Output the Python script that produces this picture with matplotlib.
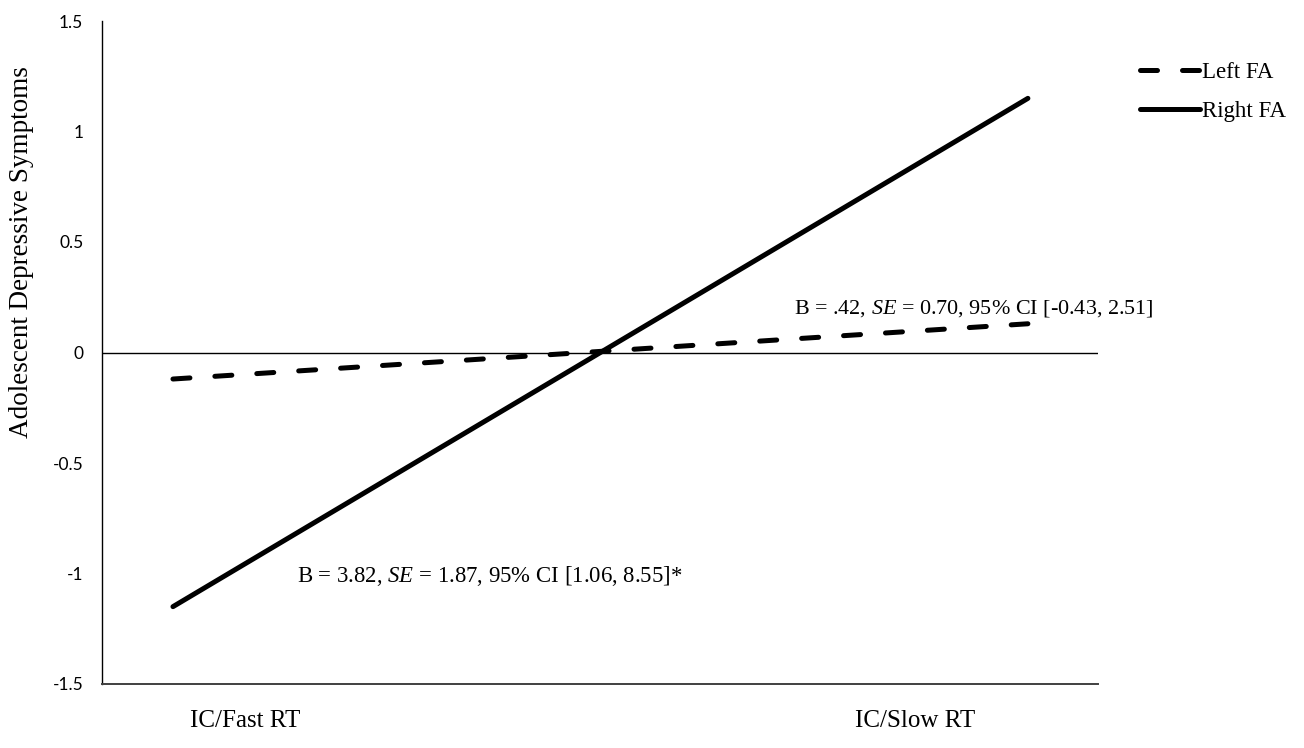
import matplotlib.pyplot as plt
from matplotlib.transforms import blended_transform_factory

# data
conditions = ['IC/Fast RT', 'IC/Slow RT']
left_fa = [-0.12, 0.13]
right_fa = [-1.15, 1.15]
y_ticks = [-1.5, -1, -0.5, 0, 0.5, 1, 1.5]
y_tick_labels = ['-1.5', '-1', '-0.5', '0', '0.5', '1', '1.5']
left_note = 'B = .42, $\\it{SE}$ = 0.70, 95% CI [-0.43, 2.51]'
right_note = 'B = 3.82, $\\it{SE}$ = 1.87, 95% CI [1.06, 8.55]*'

serif = 'Liberation Serif'
plt.rcParams['mathtext.fontset'] = 'custom'
plt.rcParams['mathtext.it'] = 'Liberation Serif:italic'
plt.rcParams['mathtext.rm'] = 'Liberation Serif'

W, H = 1304, 748
fig = plt.figure(figsize=(W / 100, H / 100), dpi=100)
ax = fig.add_axes((102 / W, 1 - 684 / H, (1098 - 102) / W, (684 - 21) / H))

x = list(range(len(conditions)))
ax.plot(x, left_fa, color='black', lw=3.6, dashes=(3.4, 5.0),
        dash_capstyle='round', solid_capstyle='round', label='Left FA')
ax.plot(x, right_fa, color='black', lw=3.6, solid_capstyle='round', label='Right FA')

ax.axhline(0, color='black', lw=1.0, zorder=1)

ax.set_xlim(-0.083, 1.082)
ax.set_ylim(-1.5, 1.5)
ax.set_yticks(y_ticks)
ax.set_yticklabels(y_tick_labels, fontfamily='Lato', fontsize=12.5)
ax.tick_params(axis='y', length=0, pad=13.5)
ax.set_xticks([])

for side in ('top', 'right'):
    ax.spines[side].set_visible(False)
ax.spines['left'].set_linewidth(1.0)
ax.spines['bottom'].set_linewidth(1.4)
ax.spines['bottom'].set_color('#404040')

# category labels below the axis
tr = blended_transform_factory(ax.transAxes, fig.transFigure)
ax.text(0.1436, 1 - 721 / H, conditions[0], transform=tr, ha='center', va='center',
        fontfamily=serif, fontsize=18)
ax.text(0.816, 1 - 721 / H, conditions[1], transform=tr, ha='center', va='center',
        fontfamily=serif, fontsize=18)

ax.text(0.727, 0.2, left_note, ha='left', va='center', fontfamily=serif, fontsize=15.9)
ax.text(0.145, -1.01, right_note, ha='left', va='center', fontfamily=serif, fontsize=16.4)

fig.text(22 / W, 1 - 252 / H, 'Adolescent Depressive Symptoms', rotation=90,
         ha='center', va='center', fontfamily=serif, fontsize=19.5)

ax.legend(loc='center left', bbox_to_anchor=(1140 / W, 1 - 92 / H),
          bbox_transform=fig.transFigure, frameon=False,
          prop={'family': serif, 'size': 16.5}, handlelength=2.6,
          handletextpad=0.12, labelspacing=0.75, borderpad=0, borderaxespad=0)

fig.savefig('out.png', dpi=100)
